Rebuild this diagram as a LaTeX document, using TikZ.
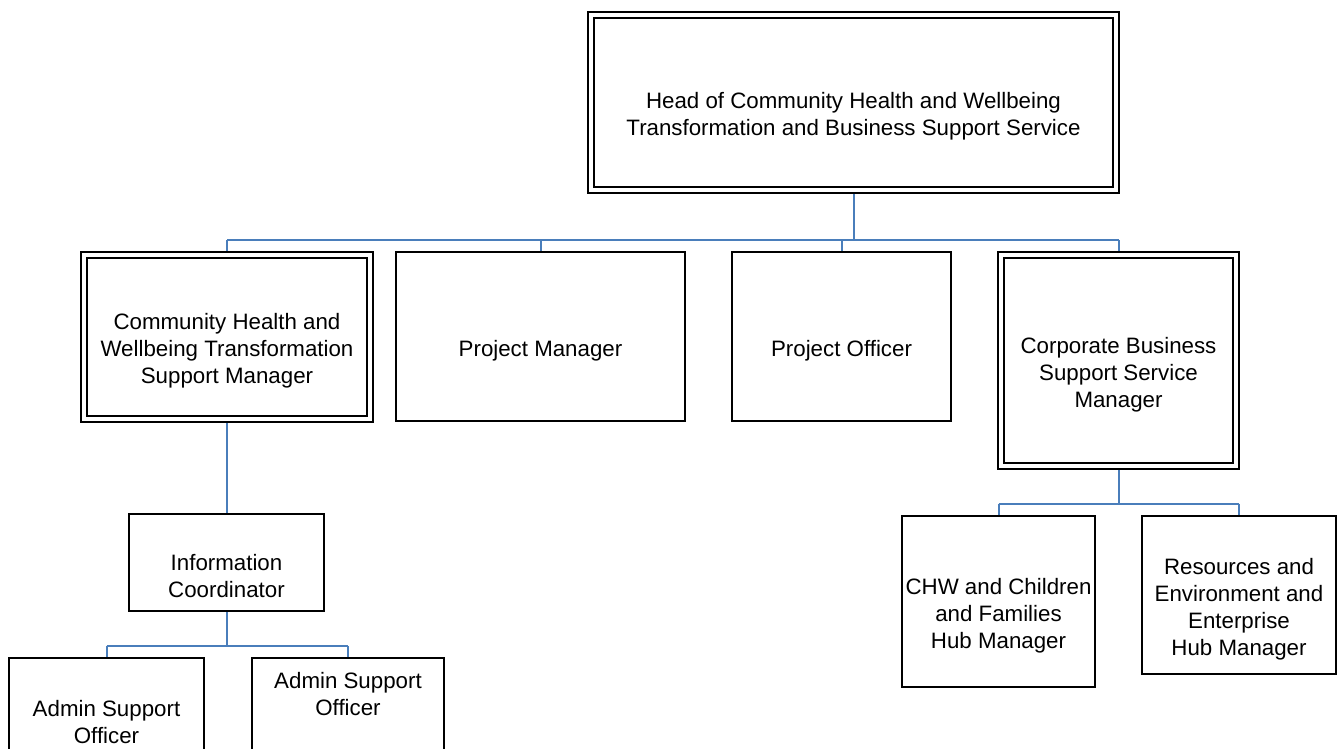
\documentclass[tikz,border=0pt]{standalone}
\usepackage{fontspec}
\setmainfont{Liberation Sans}
\usetikzlibrary{backgrounds}
\definecolor{linkblue}{HTML}{4A7EBB}
\tikzset{
  box/.style={draw=black, line width=1.8pt, fill=white, inner sep=0pt, rectangle},
  dbox/.style={box, line width=1.9pt, double=white, double distance=4pt},
  txt/.style={align=center, inner sep=0pt, text=black,
    font=\fontsize{22.3}{27}\selectfont},
  link/.style={draw=linkblue, line width=2pt}
}
\begin{document}
\begin{tikzpicture}[x=1pt, y=-1pt]
\useasboundingbox (0,0) rectangle (1338,749);

% boxes
\node[dbox, minimum width=525pt, minimum height=175pt] (head) at (853.5,102.5) {};
\node[dbox, minimum width=286pt, minimum height=164pt] (tsm) at (227,337) {};
\node[box, minimum width=289pt, minimum height=169pt] (pm) at (540.5,336.5) {};
\node[box, minimum width=219pt, minimum height=169pt] (po) at (841.5,336.5) {};
\node[dbox, minimum width=235pt, minimum height=211pt] (cbs) at (1118.5,360.5) {};
\node[box, minimum width=195pt, minimum height=97pt] (info) at (226.5,562.5) {};
\node[box, minimum width=195pt, minimum height=94pt] (adm1) at (106.5,705) {};
\node[box, minimum width=192pt, minimum height=94pt] (adm2) at (348,705) {};
\node[box, minimum width=193pt, minimum height=171pt] (hub1) at (998.5,601.5) {};
\node[box, minimum width=194pt, minimum height=158pt] (hub2) at (1239,595) {};

% labels
\node[txt] (headt) at ([yshift=-14pt]head.center) {Head of Community Health and Wellbeing\\Transformation and Business Support Service};
\node[txt] (tsmt) at ([yshift=-14pt]tsm.center) {Community Health and\\Wellbeing Transformation\\Support Manager};
\node[txt] (pmt) at ([yshift=-14pt]pm.center) {Project Manager};
\node[txt] (pot) at ([yshift=-14pt]po.center) {Project Officer};
\node[txt] (cbst) at ([yshift=-14pt]cbs.center) {Corporate Business\\Support Service\\Manager};
\node[txt] (infot) at ([yshift=-14pt]info.center) {Information\\Coordinator};
\node[txt] (adm1t) at (106.5,722) {Admin Support\\Officer};
\node[txt] (adm2t) at (348,694) {Admin Support\\Officer};
\node[txt] (hub1t) at ([yshift=-14pt]hub1.center) {CHW and Children\\and Families\\Hub Manager};
\node[txt] (hub2t) at ([yshift=-14pt]hub2.center) {Resources and\\Environment and\\Enterprise\\Hub Manager};

% bus levels
\coordinate (busA) at (0,240);
\coordinate (busB) at (0,646);
\coordinate (busC) at (0,503.5);

% connectors: one trunk, one bus, one drop per child
\begin{scope}[on background layer]
  \draw[link] (head.south) -- (head.south |- busA);
  \draw[link] (tsm.north |- busA) -- (cbs.north |- busA);
  \foreach \c in {tsm,pm,po,cbs}
    \draw[link] (\c.north |- busA) -- (\c.north);
  \draw[link] (tsm.south) -- (tsm.south |- info.north);
  \draw[link] (info.south) -- (info.south |- busB);
  \draw[link] (adm1.north |- busB) -- (adm2.north |- busB);
  \foreach \c in {adm1,adm2}
    \draw[link] (\c.north |- busB) -- (\c.north);
  \draw[link] (cbs.south) -- (cbs.south |- busC);
  \draw[link] (hub1.north |- busC) -- (hub2.north |- busC);
  \foreach \c in {hub1,hub2}
    \draw[link] (\c.north |- busC) -- (\c.north);
\end{scope}
\end{tikzpicture}
\end{document}
